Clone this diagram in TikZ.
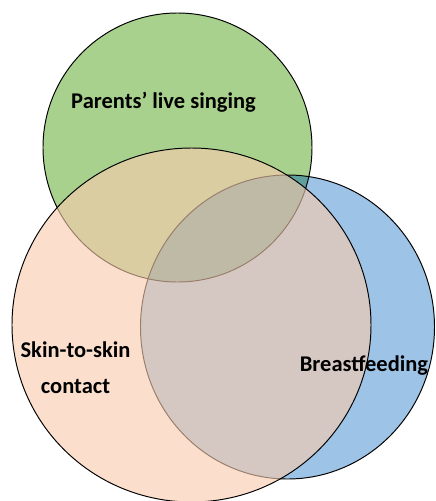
\documentclass[tikz,border=0pt]{standalone}
\usepackage{fontspec}
\setmainfont{Carlito}
\definecolor{vgreen}{HTML}{A9D18E}
\definecolor{vblue}{HTML}{9DC3E6}
\definecolor{vorange}{HTML}{F8CBAD}
\definecolor{vteal}{RGB}{96,160,156}
\tikzset{
  outline/.style={draw=black, line width=0.55pt},
  label/.style={font=\bfseries\fontsize{12.8}{20.4}\selectfont, text=black, inner sep=0pt, align=center}
}
\begin{document}
\begin{tikzpicture}[x=0.02cm,y=-0.02cm]
\useasboundingbox (0,0) rectangle (436,501);
\begin{scope}
\clip (0,0) rectangle (436,501);
% green circle
\fill[vgreen] (177.5,147.5) circle [radius=134.5];
% blue circle
\fill[vblue] (287.5,327) ellipse [x radius=147, y radius=152];
% green-blue overlap
\begin{scope}
\clip (177.5,147.5) circle [radius=134.5];
\fill[vteal] (287.5,327) ellipse [x radius=147, y radius=152];
\end{scope}
\path[outline] (177.5,147.5) circle [radius=134.5];
\path[outline] (287.5,327) ellipse [x radius=147, y radius=152];
% orange circle
\fill[vorange, fill opacity=0.62] (191.5,325) ellipse [x radius=179.5, y radius=177];
\path[outline] (191.5,325) ellipse [x radius=179.5, y radius=177];
\end{scope}
\node[label, anchor=base] (sing) at (163.5,108) {Parents’ live singing};
\node[label, anchor=base] (skin) at (75.5,393) {Skin-to-skin\\contact};
\node[label, anchor=base] (breast) at (364,371) {Breastfeeding};
\end{tikzpicture}
\end{document}
